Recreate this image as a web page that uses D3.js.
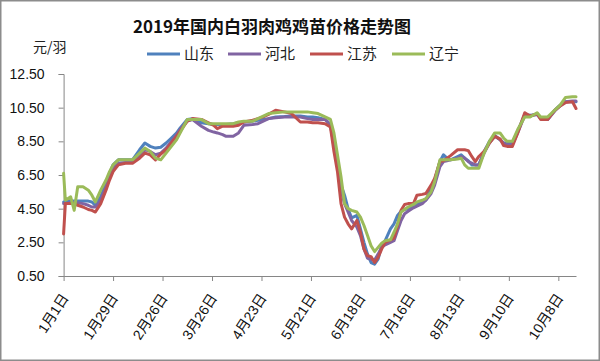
<!DOCTYPE html>
<html><head><meta charset="utf-8">
<script src="https://cdn.jsdelivr.net/npm/d3@7"></script>
<style>
html,body{margin:0;padding:0;background:#fff;}
svg{display:block;}
</style></head>
<body>
<svg id="chart" width="600" height="361"></svg>
<script>
const title = "2019年国内白羽肉鸡鸡苗价格走势图";
const unitLabel = "元/羽";
const seriesNames = ["山东", "河北", "江苏", "辽宁"];
const seriesColors = ["#4F81BD", "#8064A2", "#C0504D", "#9BBB59"];

const dates = [
  "01-01","01-02","01-05","01-07","01-09","01-12","01-15","01-17","01-19","01-22","01-25","01-27","01-29",
  "02-01","02-05","02-09","02-13","02-16","02-19","02-22","02-25","02-28","03-03","03-06","03-08","03-12",
  "03-15","03-20","03-24","03-27","03-29","04-01","04-03","04-07","04-10","04-13","04-18","04-21","04-24","04-27",
  "05-01","05-06","05-10","05-15","05-19","05-22",
  "05-25","05-29","06-01","06-03","06-05","06-07","06-09","06-11","06-13","06-16","06-18","06-20","06-22","06-24",
  "06-26","06-28","06-30","07-02","07-05","07-07","07-09","07-11","07-13","07-15","07-18","07-20","07-23","07-25",
  "07-28","07-30","08-02",
  "08-04","08-06","08-08","08-12","08-14","08-16","08-18","08-20","08-22","08-24","08-27","08-30","09-02","09-05",
  "09-07","09-09","09-12","09-15","09-19","09-22","09-26","09-28","10-02","10-06","10-09","10-12","10-16","10-18"
];

const shandong = [
  4.9,4.9,4.95,4.95,4.95,4.95,4.95,4.9,4.7,5.2,6.0,6.6,7.1,7.4,7.4,7.4,8.0,8.4,8.2,8.1,8.15,8.4,8.7,9.0,9.3,9.8,
  9.85,9.6,9.55,9.5,9.5,9.5,9.5,9.55,9.6,9.65,9.7,9.75,9.8,9.85,9.95,9.97,10.0,10.0,9.95,9.95,
  9.9,9.8,9.5,8.3,7.2,5.9,5.3,4.5,3.95,4.1,3.3,2.5,1.8,1.3,1.2,1.5,2.3,2.6,3.3,3.6,4.1,4.35,4.45,4.5,4.65,4.8,4.9,5.0,5.7,6.2,7.3,
  7.7,7.5,7.4,7.6,7.7,7.5,7.35,7.1,7.1,7.1,7.9,8.5,8.85,8.6,8.4,8.4,8.4,9.1,10.1,10.05,10.1,9.85,9.8,10.35,10.65,10.85,10.85,10.85
];
const hebei = [
  4.8,4.8,4.85,4.85,4.85,4.8,4.7,4.6,4.6,5.0,5.8,6.4,6.9,7.2,7.25,7.25,7.6,8.0,7.9,7.7,7.8,8.1,8.5,8.9,9.2,9.7,
  9.8,9.4,9.15,9.05,9.0,8.9,8.8,8.8,9.0,9.45,9.5,9.55,9.7,9.85,9.9,9.95,9.95,9.95,9.85,9.8,
  9.8,9.8,9.5,8.2,7.0,5.6,4.8,4.3,3.8,3.4,2.9,2.1,1.55,1.5,1.45,1.8,2.2,2.35,2.5,2.6,3.2,3.8,4.2,4.35,4.55,4.65,4.8,5.0,5.4,5.9,7.0,
  7.3,7.35,7.4,7.5,7.6,7.5,7.3,7.2,7.1,7.1,7.8,8.4,8.8,8.6,8.4,8.3,8.3,9.0,10.05,10.0,10.1,9.85,9.8,10.3,10.6,10.85,10.9,10.9
];
const jiangsu = [
  3.0,4.8,4.8,4.8,4.7,4.6,4.45,4.4,4.3,4.8,5.6,6.2,6.7,7.1,7.2,7.2,7.5,7.8,7.7,7.4,7.75,8.0,8.4,8.8,9.1,9.7,
  9.85,9.8,9.6,9.45,9.25,9.4,9.4,9.4,9.45,9.65,9.75,9.85,9.95,10.1,10.35,10.25,10.15,9.65,9.65,9.6,
  9.6,9.55,9.35,7.9,6.7,4.8,4.0,3.6,3.3,3.8,3.1,2.1,1.7,1.65,1.3,1.6,2.1,2.5,2.65,2.75,3.5,4.4,4.75,4.8,4.8,5.3,5.35,5.4,5.9,6.3,7.3,
  7.35,7.5,7.65,8.0,8.0,8.0,7.95,7.6,7.3,7.6,7.9,8.4,8.8,8.65,8.25,8.2,8.2,9.0,10.2,10.0,10.15,9.8,9.8,10.35,10.6,10.8,10.85,10.45
];
const liaoning = [
  6.6,5.0,5.2,4.4,5.8,5.8,5.6,5.3,4.9,5.6,6.2,6.7,7.1,7.4,7.4,7.4,7.8,8.1,7.9,7.5,7.4,7.8,8.2,8.6,9.0,9.8,
  9.8,9.8,9.55,9.55,9.55,9.55,9.55,9.55,9.65,9.7,9.7,9.85,10.0,10.15,10.2,10.25,10.25,10.25,10.25,10.2,
  10.15,9.95,9.8,9.0,7.7,6.4,4.8,4.5,4.4,4.3,4.0,3.5,2.9,2.3,1.95,2.2,2.45,2.6,2.65,3.1,3.6,4.3,4.45,4.6,4.75,4.9,5.0,5.1,5.5,6.1,7.4,
  7.4,7.4,7.4,7.45,7.5,7.1,6.9,6.9,6.9,6.9,7.8,8.5,9.0,9.0,8.7,8.5,8.5,9.2,9.95,9.95,10.2,9.95,9.95,10.35,10.65,11.1,11.15,11.15
];

const yTicks = [0.5, 2.5, 4.5, 6.5, 8.5, 10.5, 12.5];
const xTickDates = ["01-01","01-29","02-26","03-26","04-23","05-21","06-18","07-16","08-13","09-10","10-08"];
const xDomain = ["01-01", "10-18"];

const parse = d3.timeParse("%Y-%m-%d");
const toDate = s => parse("2019-" + s);

const svg = d3.select("#chart");
const W = 600, H = 361;

// outer border
svg.append("rect").attr("x", 0.75).attr("y", 0.75).attr("width", W - 1.5).attr("height", H - 1.5)
  .attr("fill", "#fff").attr("stroke", "#8c8c8c").attr("stroke-width", 1.5);

const plotL = 63.6, plotR = 576, plotT = 74, plotB = 276;
const x = d3.scaleTime().domain(xDomain.map(toDate)).range([plotL, plotR]);
const y = d3.scaleLinear().domain([0.5, 12.5]).range([plotB, plotT]);

// title
svg.append("text").attr("x", 272).attr("y", 33).attr("text-anchor", "middle")
  .attr("font-family", "'Noto Sans CJK SC', sans-serif").attr("font-weight", "bold")
  .attr("font-size", 17).attr("fill", "#111").text(title);

svg.append("text").attr("x", 33).attr("y", 52)
  .attr("font-family", "'Noto Sans CJK SC', sans-serif").attr("font-size", 14).attr("fill", "#222").text(unitLabel);

// legend
const legendX = [147, 228, 310, 392];
seriesNames.forEach((n, i) => {
  const g = svg.append("g").attr("transform", `translate(${legendX[i]},54)`);
  g.append("line").attr("x1", 0).attr("x2", 33).attr("y1", 0).attr("y2", 0)
    .attr("stroke", seriesColors[i]).attr("stroke-width", 3);
  g.append("text").attr("x", 37).attr("y", 0).attr("dy", "0.36em")
    .attr("font-family", "'Noto Sans CJK SC', sans-serif").attr("font-size", 15).attr("fill", "#222").text(n);
});

// y axis
const yAxis = d3.axisLeft(y).tickValues(yTicks).tickFormat(d3.format(".2f")).tickSize(5).tickPadding(5);
const gy = svg.append("g").attr("transform", `translate(${plotL},0)`).call(yAxis);
gy.select(".domain").attr("stroke", "#868686");
gy.selectAll(".tick line").attr("stroke", "#868686");
gy.selectAll(".tick text").attr("font-family", "'Liberation Sans', Arial, sans-serif").attr("font-size", 14).attr("fill", "#111").attr("x", -19);

// x axis
const fmt = d3.timeFormat("%-m月%-d日");
const xAxis = d3.axisBottom(x).tickValues(xTickDates.map(toDate)).tickFormat(fmt).tickSize(5).tickSizeOuter(0);
const gx = svg.append("g").attr("transform", `translate(0,${plotB})`).call(xAxis);
gx.select(".domain").attr("stroke", "#868686");
gx.selectAll(".tick line").attr("stroke", "#868686");
gx.selectAll(".tick text")
  .attr("font-family", "'Liberation Sans', 'Noto Sans CJK SC', sans-serif").attr("font-size", 14).attr("fill", "#111")
  .attr("text-anchor", "end").attr("x", 0).attr("y", 0).attr("dy", "0.35em")
  .attr("transform", "translate(1,19) rotate(-57)");

// lines
const seriesData = [shandong, hebei, jiangsu, liaoning];
const line = d3.line().x(d => x(d.date)).y(d => y(d.value));
seriesData.forEach((vals, i) => {
  const pts = dates.map((s, j) => ({date: toDate(s), value: vals[j]}));
  svg.append("path").datum(pts).attr("d", line)
    .attr("fill", "none").attr("stroke", seriesColors[i]).attr("stroke-width", 3)
    .attr("stroke-linejoin", "round").attr("stroke-linecap", "round");
});
</script>
</body></html>
